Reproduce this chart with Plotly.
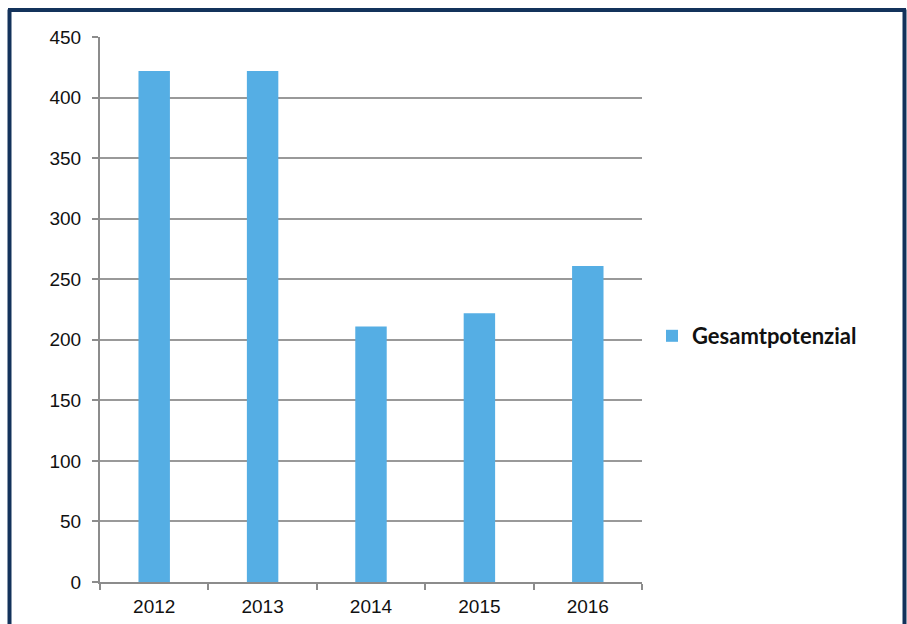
import plotly.graph_objects as go

# Gesamtpotenzial je Jahr
years = ["2012", "2013", "2014", "2015", "2016"]
gesamtpotenzial = [422, 422, 211, 222, 261]
y_ticks = [0, 50, 100, 150, 200, 250, 300, 350, 400, 450]

W, H = 907, 624
L, R, T, B = 100, 265, 37, 42
pw, ph = W - L - R, H - T - B


def px_x(x):
    return (x - L) / pw


def px_y(y):
    return (H - B - y) / ph


fig = go.Figure()
fig.add_trace(go.Bar(
    x=years,
    y=gesamtpotenzial,
    name="Gesamtpotenzial",
    marker=dict(color="#55AEE4", line=dict(width=0)),
    width=0.29,
    showlegend=True,
))

grid_col = "#8C8C8C"
fig.update_layout(
    width=W,
    height=H,
    margin=dict(l=L, r=R, t=T, b=B, autoexpand=False),
    paper_bgcolor="white",
    plot_bgcolor="white",
    showlegend=True,
    font=dict(family="Liberation Sans, Arial, sans-serif", size=19, color="#111111"),
    xaxis=dict(
        type="category",
        automargin=False,
        showgrid=False,
        showline=True,
        linecolor=grid_col,
        linewidth=2,
        ticks="outside",
        tickson="boundaries",
        ticklen=6,
        tickwidth=1.5,
        tickcolor=grid_col,
        tickfont=dict(size=19),
        ticklabelstandoff=6,
    ),
    yaxis=dict(
        range=[0, 450],
        automargin=False,
        tickvals=y_ticks,
        showgrid=True,
        gridcolor="#999999",
        gridwidth=1.5,
        showline=True,
        linecolor=grid_col,
        linewidth=2,
        ticks="outside",
        ticklen=6,
        tickwidth=1.5,
        tickcolor=grid_col,
        tickfont=dict(size=19),
        ticklabelstandoff=7,
        zeroline=False,
    ),
    legend=dict(
        x=px_x(652),
        y=px_y(336),
        xanchor="left",
        yanchor="middle",
        itemwidth=30,
        font=dict(family="Lato, Open Sans, sans-serif", size=22, color="#111111", weight="bold"),
        bgcolor="rgba(0,0,0,0)",
    ),
    shapes=[
        # dark frame around the graphic (left, top, right)
        dict(type="line", xref="paper", yref="paper",
             x0=px_x(9.5), x1=px_x(9.5), y0=px_y(9.5), y1=px_y(640),
             line=dict(color="#13325B", width=4)),
        dict(type="line", xref="paper", yref="paper",
             x0=px_x(8), x1=px_x(906), y0=px_y(10), y1=px_y(10),
             line=dict(color="#13325B", width=4)),
        dict(type="line", xref="paper", yref="paper",
             x0=px_x(904.5), x1=px_x(904.5), y0=px_y(9.5), y1=px_y(640),
             line=dict(color="#13325B", width=4)),
    ],
)

fig.write_html("out.html")
